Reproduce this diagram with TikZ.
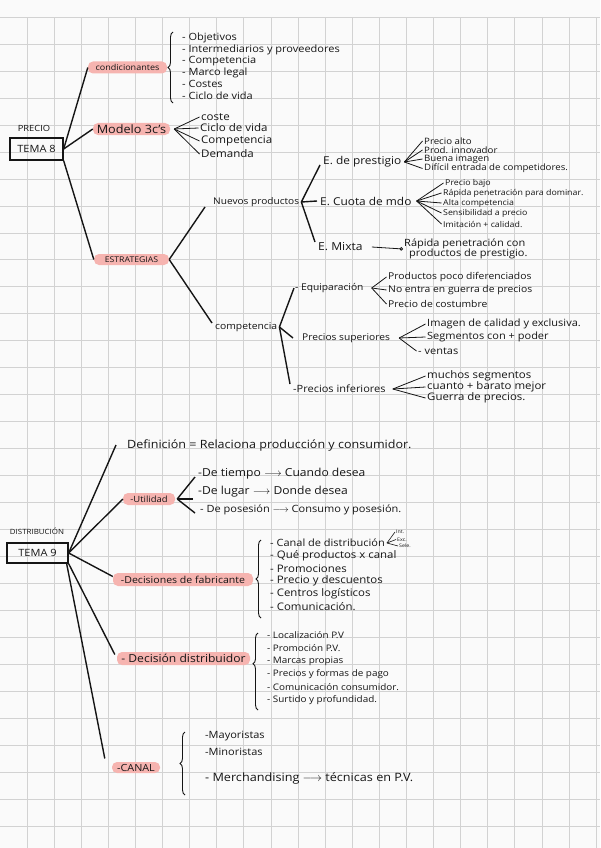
\documentclass[tikz,border=0pt]{standalone}
\usepackage{fontspec}
\setmainfont{Open Sans}[FakeStretch=1.1]
\usetikzlibrary{positioning,arrows.meta,calc,decorations.pathreplacing}
\definecolor{paper}{HTML}{FAFAFA}
\definecolor{gridc}{HTML}{D2D2D2}
\definecolor{hlpink}{HTML}{F6B4B0}
\definecolor{ink}{HTML}{151515}
\newcommand{\hsz}[1]{\fontsize{#1}{#1}\selectfont}
\tikzset{
  gridln/.style={draw=gridc, line width=0.9pt},
  txt/.style={anchor=west, inner sep=0pt, text=ink, font=\hsz{10}},
  sub/.style={txt, font=\hsz{8}},
  tiny/.style={txt, font=\hsz{4.8}},
  lbl/.style={inner sep=0pt, text=ink, font=\hsz{8.5}},
  hilite/.style={fill=hlpink, rounded corners=5pt, inner sep=0pt, minimum height=12pt,
               text=ink, font=\hsz{9}},
  tema/.style={draw=ink, line width=1.3pt, inner sep=0pt, text=ink, font=\hsz{10}},
  branch/.style={draw=ink, line width=1.4pt},
  fan/.style={draw=ink, line width=0.8pt},
  curly/.style={draw=ink, line width=0.9pt, decorate, decoration={brace, amplitude=5pt}},
}

\begin{document}
\begin{tikzpicture}[x=1pt, y=-1pt]
  \useasboundingbox (0,0) rectangle (600,848);
  \fill[paper] (0,0) rectangle (600,848);
  \foreach \i in {1,...,22}
    \draw[gridln] (27.1*\i,17.3) -- (27.1*\i,848);
  \foreach \j in {0,...,30}
    \draw[gridln] (0,17.3+26.96*\j) -- (600,17.3+26.96*\j);

  % TEMA 8
  \node[lbl] (precio) at (34,128) {PRECIO};
  \node[tema, minimum width=53pt, minimum height=22pt] (tema8) at (36.5,149) {TEMA 8};
  \node[hilite, minimum width=79pt, font=\hsz{8.2}] (cond) at (127.5,67.5) {condicionantes};
  \node[hilite, minimum width=77pt, font=\hsz{11.5}] (modelo) at (131.5,129) {Modelo 3c's};
  \node[hilite, minimum width=75pt, minimum height=11pt, font=\hsz{7.9}] (estr) at (131.5,259.5) {ESTRATEGIAS};
  \draw[branch] (tema8.east) -- (cond.west);
  \draw[branch] (tema8.east) -- (modelo.west);
  \draw[branch] (tema8.south east) -- (estr.west);

  % condicionantes
  \node[txt] (obj) at (182,38) {- Objetivos};
  \node[txt] (inter) at (182,49.5) {- Intermediarios y proveedores};
  \node[txt] (compc) at (182,61) {- Competencia};
  \node[txt] (marco) at (182,72.5) {- Marco legal};
  \node[txt] (costes) at (182,84) {- Costes};
  \node[txt] (ciclo) at (182,95.5) {- Ciclo de vida};
  \draw[curly] (173,103) -- (173,32);

  % modelo 3c's
  \node[txt, font=\hsz{10.5}] (coste) at (201,117) {coste};
  \node[txt, font=\hsz{10.5}] (ciclo2) at (200,128) {Ciclo de vida};
  \node[txt, font=\hsz{10.5}] (compm) at (201,141) {Competencia};
  \node[txt, font=\hsz{10.5}] (demanda) at (201,154) {Demanda};
  \coordinate (mfan) at ([xshift=4pt]modelo.east);
  \foreach \n in {coste,ciclo2,compm,demanda}
    \draw[fan] (mfan) -- ([xshift=-1.5pt]\n.west);

  % estrategias
  \node[txt, font=\hsz{9.2}] (nuevos) at (213,202) {Nuevos productos};
  \node[txt, font=\hsz{9.4}] (compe) at (215,327) {competencia};
  \draw[branch] (estr.east) -- ([xshift=-8pt,yshift=-5pt]nuevos.west);
  \draw[branch] (estr.east) -- ([xshift=-3pt,yshift=4pt]compe.west);

  % nuevos productos
  \node[txt, font=\hsz{10.8}] (prest) at (323,162) {E. de prestigio};
  \node[txt, font=\hsz{10.8}] (cuota) at (320,201) {E. Cuota de mdo};
  \node[txt, font=\hsz{11}] (mixta) at (318,247) {E. Mixta};
  \coordinate (nfan) at ([xshift=2pt]nuevos.east);
  \draw[branch] (nfan) -- ([xshift=-3pt,yshift=-3pt]prest.west);
  \draw[branch] (nfan) -- ([xshift=-3pt]cuota.west);
  \draw[branch] (nfan) -- ([xshift=-3pt,yshift=5pt]mixta.west);

  \node[sub, font=\hsz{8.8}] (palto) at (424,141) {Precio alto};
  \node[sub, font=\hsz{8.8}] (pinno) at (424,150) {Prod. innovador};
  \node[sub, font=\hsz{8.8}] (pimag) at (424,159) {Buena imagen};
  \node[sub, font=\hsz{8.8}] (pdif) at (424,168.5) {Difícil entrada de competidores.};
  \coordinate (pfan) at ([xshift=3pt]prest.east);
  \foreach \n in {palto,pinno,pimag,pdif}
    \draw[fan] (pfan) -- ([xshift=-1.5pt]\n.west);

  \node[sub] (cbajo) at (445,183) {Precio bajo};
  \node[sub] (crap) at (443,193) {Rápida penetración para dominar.};
  \node[sub] (calta) at (443,203) {Alta competencia};
  \node[sub] (csens) at (443,213) {Sensibilidad a precio};
  \node[sub] (cimit) at (443,224) {Imitación + calidad.};
  \coordinate (cfan) at ([xshift=5pt]cuota.east);
  \foreach \n in {cbajo,crap,calta,csens,cimit}
    \draw[fan] (cfan) -- ([xshift=-1.5pt]\n.west);

  \node[txt, align=left] (mtxt) at (404,249) {Rápida penetración con\\\hspace*{5pt}productos de prestigio.};
  \draw[fan, -{Circle[open, length=3.5pt]}] ([xshift=9pt]mixta.east) -- ([xshift=-1pt]mtxt.west);

  % competencia
  \node[txt, font=\hsz{9.3}] (equip) at (295,288) {- Equiparación};
  \node[txt, font=\hsz{9.3}] (psup) at (302,338) {Precios superiores};
  \node[txt] (pinf) at (293,389) {-Precios inferiores};
  \coordinate (kfan) at ([xshift=2pt]compe.east);
  \draw[branch] (kfan) -- ([xshift=-1pt]equip.west);
  \draw[branch] (kfan) -- ([xshift=-9pt]psup.west);
  \draw[branch] (kfan) -- ([xshift=-3pt,yshift=5pt]pinf.west);

  \node[txt, font=\hsz{9.4}] (epoco) at (388,277) {Productos poco diferenciados};
  \node[txt, font=\hsz{9.4}] (eguer) at (388,290) {No entra en guerra de precios};
  \node[txt, font=\hsz{9.4}] (ecost) at (388,304) {Precio de costumbre};
  \coordinate (efan) at ([xshift=8pt]equip.east);
  \foreach \n in {epoco,eguer,ecost}
    \draw[fan] (efan) -- ([xshift=-1.5pt]\n.west);

  \node[txt] (simag) at (427,324) {Imagen de calidad y exclusiva.};
  \node[txt] (sseg) at (427,337) {Segmentos con + poder};
  \node[txt] (svent) at (418,351) {- ventas};
  \coordinate (sfan) at ([xshift=9pt]psup.east);
  \foreach \n in {simag,sseg,svent}
    \draw[fan] (sfan) -- ([xshift=-1.5pt]\n.west);

  \node[txt, font=\hsz{10.4}] (imuch) at (427,376) {muchos segmentos};
  \node[txt, font=\hsz{10.4}] (icuan) at (427,387) {cuanto + barato mejor};
  \node[txt, font=\hsz{10.4}] (iguer) at (427,398) {Guerra de precios.};
  \coordinate (ifan) at ([xshift=7pt]pinf.east);
  \foreach \n in {imuch,icuan,iguer}
    \draw[fan] (ifan) -- ([xshift=-1.5pt]\n.west);

  % TEMA 9
  \node[lbl, font=\hsz{7.2}] (distlbl) at (37,531) {DISTRIBUCIÓN};
  \node[tema, minimum width=61pt, minimum height=20pt] (tema9) at (37.5,553) {TEMA 9};
  \node[txt, font=\hsz{11.4}] (defin) at (127,445) {Definición = Relaciona producción y consumidor.};
  \node[hilite, minimum width=52pt, font=\hsz{8.6}] (util) at (149,499) {-Utilidad};
  \node[hilite, minimum width=140pt, minimum height=13pt, font=\hsz{9.6}] (decfab) at (183,579.5) {-Decisiones de fabricante};
  \node[hilite, minimum width=133pt, minimum height=13pt, font=\hsz{11}] (decdis) at (183.5,658.5) {- Decisión distribuidor};
  \node[hilite, minimum width=48pt, minimum height=11pt, font=\hsz{9.8}] (canal) at (136,767.5) {-CANAL};
  \draw[branch] (tema9.east) -- ([xshift=-11pt]defin.west);
  \draw[branch] (tema9.east) -- (util.west);
  \draw[branch] (tema9.east) -- ([yshift=3pt]decfab.west);
  \draw[branch] (tema9.south east) -- ([xshift=-2pt,yshift=4pt]decdis.west);
  \draw[branch] ([xshift=-2pt]tema9.south east) -- ([xshift=-7pt,yshift=9pt]canal.west);

  % utilidad
  \node[txt, font=\hsz{11}] (tiempo) at (198,474) {-De tiempo $\longrightarrow$ Cuando desea};
  \node[txt, font=\hsz{11}] (lugar) at (198,492) {-De lugar $\longrightarrow$ Donde desea};
  \node[txt] (poses) at (200,510) {- De posesión $\longrightarrow$ Consumo y posesión.};
  \coordinate (ufan) at ([xshift=2pt]util.east);
  \draw[branch] (ufan) -- ([xshift=-3pt,yshift=-3pt]tiempo.west);
  \draw[branch] (ufan) -- ([xshift=-5pt,yshift=-7pt]lugar.west);
  \draw[branch] (ufan) -- ([xshift=-5pt,yshift=-3pt]poses.west);

  % decisiones de fabricante
  \node[txt, font=\hsz{10}] (fcanal) at (270,543) {- Canal de distribución};
  \node[txt, font=\hsz{10.4}] (fprod) at (270,556) {- Qué productos x canal};
  \node[txt, font=\hsz{10.4}] (fprom) at (270,569) {- Promociones};
  \node[txt, font=\hsz{10.4}] (fprec) at (270,581) {- Precio y descuentos};
  \node[txt, font=\hsz{10.4}] (fcent) at (270,594) {- Centros logísticos};
  \node[txt, font=\hsz{10.4}] (fcom) at (270,607) {- Comunicación.};
  \draw[curly] (261,618) -- (261,540);
  \node[tiny] (fint) at (396,532) {Int.};
  \node[tiny] (fexc) at (397,539.5) {Exc.};
  \node[tiny] (fsel) at (399,546) {Sele.};
  \coordinate (ffan) at ([xshift=2pt]fcanal.east);
  \foreach \n in {fint,fexc,fsel}
    \draw[fan, line width=0.6pt] (ffan) -- ([xshift=-1pt]\n.west);

  % decision distribuidor
  \node[txt, font=\hsz{9}] (dloc) at (267,635) {- Localización P.V};
  \node[txt, font=\hsz{9}] (dprom) at (267,648) {- Promoción P.V.};
  \node[txt, font=\hsz{9}] (dmarc) at (267,661) {- Marcas propias};
  \node[txt, font=\hsz{9}] (dprec) at (267,674) {- Precios y formas de pago};
  \node[txt, font=\hsz{9}] (dcom) at (267,687) {- Comunicación consumidor.};
  \node[txt, font=\hsz{9}] (dsurt) at (267,700) {- Surtido y profundidad.};
  \draw[curly, decoration={brace, amplitude=5pt, aspect=0.6}] (258,710) -- (258,633);

  % canal
  \node[txt] (cmay) at (205,736) {-Mayoristas};
  \node[txt] (cmin) at (205,752) {-Minoristas};
  \node[txt, font=\hsz{11.5}] (cmerch) at (205,778) {- Merchandising $\longrightarrow$ técnicas en P.V.};
  \draw[curly] (185,795) -- (185,732);
\end{tikzpicture}
\end{document}
